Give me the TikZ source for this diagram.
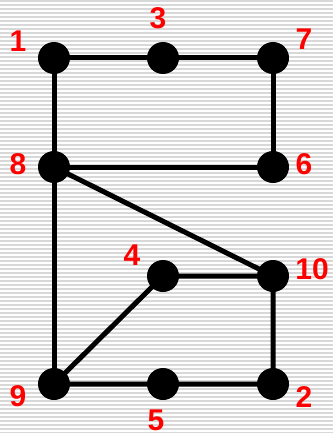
\documentclass[tikz,border=0pt]{standalone}
\usepackage{fontspec}
\setmainfont{Liberation Sans}
\definecolor{stripe}{HTML}{D8D8D8}
\definecolor{lbl}{HTML}{FF0000}
\begin{document}
\begin{tikzpicture}[x=1pt,y=-1pt,
  vtx/.style={circle,fill=black,inner sep=0pt,minimum size=32pt},
  lab/.style={text=lbl,font=\fontsize{30}{30}\selectfont\bfseries,inner sep=0pt},
  edge/.style={line width=5pt}]
\useasboundingbox (0,0) rectangle (333,433);
\fill[white] (0,0) rectangle (333,433);
\foreach \i in {0,...,108} {
  \draw[stripe,line width=1.4pt] (0,{\i*4+1}) -- (333,{\i*4+1});
}
\node[vtx] (n1) at (54,58) {};
\node[vtx] (n3) at (163,58) {};
\node[vtx] (n7) at (273,58) {};
\node[vtx] (n8) at (54,167) {};
\node[vtx] (n6) at (273,167) {};
\node[vtx] (n4) at (163,276) {};
\node[vtx] (n10) at (273,276) {};
\node[vtx] (n9) at (54,384) {};
\node[vtx] (n5) at (163,384) {};
\node[vtx] (n2) at (273,384) {};
\begin{scope}[on background layer/.style={}]
\draw[edge] (n1.center) -- (n3.center) -- (n7.center) -- (n6.center) -- (n8.center) -- (n1.center);
\draw[edge] (n8.center) -- (n10.center);
\draw[edge] (n8.center) -- (n9.center);
\draw[edge] (n4.center) -- (n10.center) -- (n2.center) -- (n5.center) -- (n9.center) -- (n4.center);
\end{scope}
\node[lab] (l1) at (18,41) {1};
\node[lab] (l3) at (158,18) {3};
\node[lab] (l7) at (304,39) {7};
\node[lab] (l8) at (18,164) {8};
\node[lab] (l6) at (304,164) {6};
\node[lab] (l4) at (132,255) {4};
\node[lab] (l10) at (312,269) {10};
\node[lab] (l9) at (18,396) {9};
\node[lab] (l5) at (156,420) {5};
\node[lab] (l2) at (304,397) {2};
\end{tikzpicture}
\end{document}
